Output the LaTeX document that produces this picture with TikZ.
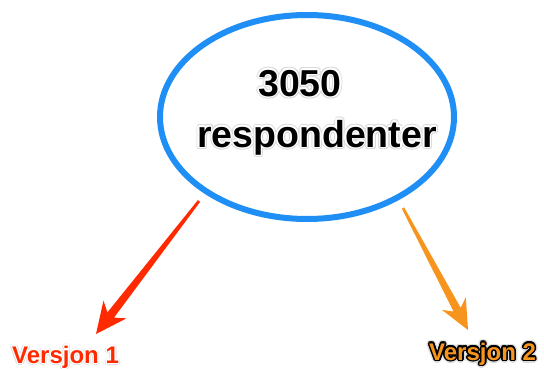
\documentclass[tikz,border=0pt]{standalone}
\usepackage{fontspec}
\setmainfont{Liberation Sans}
\usetikzlibrary{shapes.geometric,calc}
\definecolor{ellblue}{HTML}{1F8FF5}
\definecolor{arrred}{HTML}{FF2A00}
\definecolor{arrorange}{HTML}{F7941D}
\begin{document}
\begin{tikzpicture}[x=1pt,y=-1pt,
  bigtxt/.style={inner sep=0pt,anchor=base,font=\fontsize{37.5}{40}\selectfont\bfseries},
  smalltxt/.style={inner sep=0pt,anchor=base west,font=\fontsize{24}{26}\selectfont\bfseries},
  bubble/.style={draw=ellblue,line width=6pt,ellipse,inner sep=0pt,minimum width=294pt,minimum height=204pt}]
\useasboundingbox[fill=white] (0,0) rectangle (544,369);

% central ellipse
\node[bubble] (e) at (307,117) {};

% anchor points of the texts
\coordinate (p1) at (300,96);
\coordinate (p2) at (317,147);
\coordinate (p3) at (12,363);
\coordinate (p4) at (429,360);

% soft halo behind the texts
\foreach \a in {0,30,...,330}{
  \node[bigtxt,text=black!14] (ha\a) at ([shift={(\a:2.4)}]p1) {3050};
  \node[bigtxt,text=black!14] (hb\a) at ([shift={(\a:2.4)}]p2) {respondenter};
  \node[smalltxt,text=black!12] (hc\a) at ([shift={(\a:2)}]p3) {Versjon 1};
  \node[smalltxt,text=black!14] (hd\a) at ([shift={(\a:3)}]p4) {Versjon 2};
}
\foreach \a in {0,30,...,330}{
  \node[bigtxt,text=white] (wa\a) at ([shift={(\a:1.4)}]p1) {3050};
  \node[bigtxt,text=white] (wb\a) at ([shift={(\a:1.4)}]p2) {respondenter};
  \node[smalltxt,text=white] (wc\a) at ([shift={(\a:1.2)}]p3) {Versjon 1};
  \node[smalltxt,text=black] (wd\a) at ([shift={(\a:1.6)}]p4) {Versjon 2};
}

% main texts
\node[bigtxt] (t1) at (p1) {3050};
\node[bigtxt] (t2) at (p2) {respondenter};
\node[smalltxt,text=arrred] (v1) at (p3) {Versjon 1};
\node[smalltxt,text=arrorange] (v2) at (p4) {Versjon 2};

% red arrow
\coordinate (r0) at (199,201);
\coordinate (r1) at (96,334);
\coordinate (rn) at ($(r1)!24pt!(r0)$);
\coordinate (rb) at ($(r1)!31pt!(r0)$);
\fill[arrred] ($(r0)!1.4pt!90:(r1)$) -- ($(rn)!4.2pt!90:(r1)$) -- ($(rb)!14.5pt!90:(r1)$)
  -- (r1) -- ($(rb)!14.5pt!-90:(r1)$) -- ($(rn)!4.2pt!-90:(r1)$) -- ($(r0)!1.4pt!-90:(r1)$) -- cycle;

% orange arrow
\coordinate (o0) at (403,208);
\coordinate (o1) at (468,330);
\coordinate (on) at ($(o1)!23pt!(o0)$);
\coordinate (ob) at ($(o1)!30pt!(o0)$);
\fill[arrorange] ($(o0)!1.3pt!90:(o1)$) -- ($(on)!4pt!90:(o1)$) -- ($(ob)!13.5pt!90:(o1)$)
  -- (o1) -- ($(ob)!13.5pt!-90:(o1)$) -- ($(on)!4pt!-90:(o1)$) -- ($(o0)!1.3pt!-90:(o1)$) -- cycle;
\end{tikzpicture}
\end{document}
